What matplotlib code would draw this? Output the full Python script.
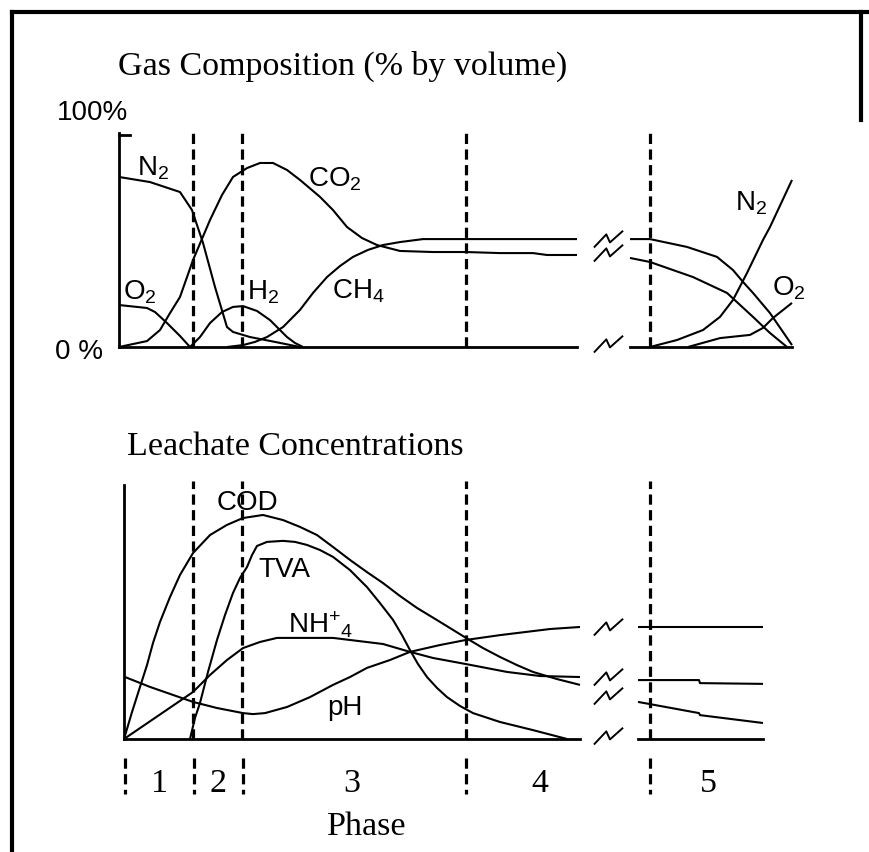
import matplotlib.pyplot as plt
from matplotlib.lines import Line2D

plt.rcParams['font.family'] = ['Liberation Sans', 'DejaVu Sans']
plt.rcParams['mathtext.fontset'] = 'custom'
plt.rcParams['mathtext.rm'] = 'Liberation Sans'
plt.rcParams['mathtext.default'] = 'regular'

# ---------------------------------------------------------------
# Data (time in arbitrary units, gas in % by volume,
# leachate in relative concentration 0..100)
# ---------------------------------------------------------------
phase_bounds = [7.4, 12.3, 34.7, 53.1]
phase_ticks = [0.6, 7.5, 12.4, 34.7, 53.1]
phase_names = ['1', '2', '3', '4', '5']
phase_label_x = [4.1, 9.9, 23.3, 42.1, 58.9]

# gas composition, before the time break
n2_t = [0, 3.1, 6.1, 7.3, 8.4, 9.6, 10.8, 11.4, 13.1, 15.6, 18.1]
n2_v = [80.2, 77.8, 73.1, 64.6, 49.1, 28.3, 9.4, 7.1, 4.7, 2.4, 0]
o2_t = [0, 2.8, 3.6, 4.8, 6.1, 7.1]
o2_v = [19.8, 18.4, 16.5, 11.3, 5.2, 0]
co2_t = [0, 2.8, 4.1, 5.1, 6.1, 7.4, 9.1, 10.3, 11.4, 12.8, 14.1, 15.4, 16.8,
         18.1, 20.1, 21.4, 22.8, 24.3, 25.8, 28.1, 31.4, 34.7, 38.1, 41.4,
         42.8, 45.8]
co2_v = [0, 2.8, 8.0, 16.0, 23.6, 41.0, 59.9, 71.7, 80.2, 84.4, 86.8, 86.8,
         83.5, 78.8, 70.8, 64.6, 56.6, 51.4, 48.1, 45.3, 44.8, 44.8, 44.3,
         44.3, 43.4, 43.4]
ch4_t = [10.8, 12.4, 13.6, 14.8, 16.4, 18.1, 19.4, 20.8, 22.1, 23.4, 24.9,
         26.4, 28.1, 30.4, 34.7, 45.8]
ch4_v = [0, 0.9, 2.4, 4.7, 9.4, 17.5, 25.5, 33.0, 38.2, 42.5, 45.8, 48.1,
         49.5, 50.9, 50.9, 50.9]
h2_t = [7.1, 8.1, 9.1, 10.3, 11.4, 12.4, 13.8, 15.1, 16.1, 16.8, 17.6, 18.4]
h2_v = [0, 4.7, 11.3, 16.5, 18.9, 19.3, 17.0, 12.7, 8.0, 4.7, 1.9, 0]

# gas composition, after the time break
ch4b_t = [51.1, 53.1, 56.8, 59.8, 61.4, 62.4, 63.4, 65.1, 67.3]
ch4b_v = [50.9, 50.9, 47.2, 42.5, 36.3, 30.7, 25.5, 16.0, 0.9]
co2b_t = [51.1, 53.1, 57.4, 60.8, 63.4, 65.1, 66.8]
co2b_v = [42.0, 40.1, 33.0, 25.5, 14.2, 6.6, 0]
n2b_t = [53.1, 55.8, 58.4, 60.1, 61.4, 62.8, 64.4, 65.1, 67.3]
n2b_v = [0, 3.3, 8.0, 14.2, 22.2, 34.9, 50.5, 56.6, 78.8]
o2b_t = [56.9, 60.1, 63.1, 64.4, 65.4, 67.3]
o2b_v = [0, 4.2, 5.7, 9.0, 13.7, 20.8]

# leachate concentrations, before the time break
cod_t = [0.5, 1.3, 2.1, 2.8, 3.4, 4.1, 5.1, 6.1, 7.4, 9.1, 10.8, 12.4, 14.4,
         16.4, 18.1, 19.8, 21.4, 23.1, 24.8, 26.4, 28.1, 29.8, 32.1, 34.7,
         36.4, 38.1, 39.8, 41.4, 43.8, 46.1]
cod_v = [0, 10.6, 20.5, 29.1, 37.8, 46.1, 55.9, 64.6, 73.2, 80.3, 84.3, 87.0,
         88.2, 86.2, 83.5, 80.3, 75.6, 70.5, 65.7, 61.4, 56.3, 51.6, 46.1,
         39.8, 35.8, 32.3, 29.1, 26.4, 23.6, 21.3]
tva_t = [7.1, 7.6, 8.1, 8.9, 9.8, 10.6, 11.4, 12.1, 12.8, 13.3, 13.8, 14.8,
         16.4, 17.6, 18.8, 20.1, 21.4, 23.1, 24.8, 26.1, 27.4, 28.3, 29.1,
         29.9, 30.8, 31.8, 32.8, 34.1, 35.4, 38.1, 41.4, 44.8]
tva_v = [0, 8.3, 14.2, 26.4, 39.0, 48.8, 57.5, 63.4, 67.7, 72.4, 76.0, 77.6,
         78.0, 77.6, 76.4, 74.4, 71.7, 66.5, 59.8, 53.5, 46.9, 40.9, 35.0,
         29.5, 24.4, 20.1, 16.5, 13.0, 10.2, 6.7, 3.5, 0]
nh4_t = [0.5, 7.4, 9.1, 10.8, 12.4, 14.1, 15.8, 21.4, 26.4, 29.1, 31.4, 34.7,
         38.8, 42.1, 46.1]
nh4_v = [0, 18.5, 25.2, 31.1, 35.8, 38.2, 39.8, 39.8, 37.4, 34.3, 31.9, 29.5,
         26.4, 24.8, 24.4]
ph_t = [0.6, 3.1, 7.4, 9.8, 12.4, 13.4, 14.6, 16.8, 19.1, 21.4, 23.1, 24.8,
        27.1, 29.1, 32.1, 34.7, 38.1, 43.1, 46.1]
ph_v = [24.4, 20.5, 14.6, 12.2, 10.2, 9.8, 10.2, 12.6, 16.5, 21.3, 24.4, 28.0,
        31.1, 34.3, 37.0, 39.0, 40.9, 43.3, 44.1]

# leachate concentrations, after the time break
phb_t = [51.9, 58.0, 64.4]
phb_v = [44.1, 44.1, 44.1]
nh4b_t = [51.9, 58.0, 58.1, 64.4]
nh4b_v = [23.2, 23.2, 22.0, 21.7]
codb_t = [51.9, 58.0, 58.1, 64.4]
codb_v = [14.6, 10.2, 9.4, 6.3]

gas_break_y = [50.9, 44.3, 1.5]
leach_break_y = [44.1, 24.4, 16.9, 1.2]
break_x = 48.9

# ---------------------------------------------------------------
W, H = 869, 852
fig = plt.figure(figsize=(W / 100, H / 100), dpi=100)
x0_px, x_scale = 119, 10.0  # pixel of t=0 and pixels per time unit
xlim = (-x0_px / x_scale, (W - x0_px) / x_scale)

ax1 = fig.add_axes([0, 1 - 347 / H, 1, 212 / H])
ax2 = fig.add_axes([0, 1 - 739 / H, 1, 254 / H])
for ax in (ax1, ax2):
    ax.set_xlim(*xlim)
    ax.set_ylim(0, 100)
    ax.axis('off')

LW = 1.5
AXLW = 2.0
kw = dict(color='black', lw=LW, clip_on=False, solid_capstyle='butt')
dash = dict(color='black', lw=2.3, ls=(0, (3.2, 1.7)), clip_on=False)
brk = dict(marker=[(-1, -0.55), (-0.15, 0.35), (0.1, -0.2), (1, 0.6)],
           ms=21, mfc='none', mec='black', mew=1.4, ls='none', clip_on=False)
serif = dict(family='Liberation Serif', fontsize=24.5)
sans = dict(fontsize=20)

# ---- gas panel ----
ax1.plot([0, 0], [0, 101], color='black', lw=AXLW, clip_on=False)
ax1.plot([0, 1.1], [100, 100], color='black', lw=AXLW, clip_on=False)
ax1.plot([0, max(co2_t)], [0, 0], color='black', lw=AXLW, clip_on=False)
ax1.plot([min(co2b_t), max(n2b_t)], [0, 0], color='black', lw=AXLW, clip_on=False)
for xb in phase_bounds:
    ax1.plot([xb, xb], [0, 101.5], **dash)

for t, v in [(n2_t, n2_v), (o2_t, o2_v), (co2_t, co2_v), (ch4_t, ch4_v),
             (h2_t, h2_v), (ch4b_t, ch4b_v), (co2b_t, co2b_v),
             (n2b_t, n2b_v), (o2b_t, o2b_v)]:
    ax1.plot(t, v, **kw)
ax1.plot([break_x] * len(gas_break_y), gas_break_y, **brk)

ax1.text(-0.1, 128.3, 'Gas Composition (% by volume)', ha='left', va='baseline', **serif)
ax1.text(-6.2, 107, '100%', ha='left', va='baseline', **sans)
ax1.text(-6.4, -5.7, '0 %', ha='left', va='baseline', **sans)
ax1.text(1.8, 81.1, 'N$_2$', ha='left', va='baseline', **sans)
ax1.text(18.9, 75.5, 'CO$_2$', ha='left', va='baseline', **sans)
ax1.text(0.4, 22.2, 'O$_2$', ha='left', va='baseline', **sans)
ax1.text(12.8, 22.2, 'H$_2$', ha='left', va='baseline', **sans)
ax1.text(21.3, 23.1, 'CH$_4$', ha='left', va='baseline', **sans)
ax1.text(61.6, 64.6, 'N$_2$', ha='left', va='baseline', **sans)
ax1.text(65.3, 24.5, 'O$_2$', ha='left', va='baseline', **sans)

# ---- leachate panel ----
ax2.plot([0.5, 0.5], [0, 100], color='black', lw=AXLW, clip_on=False)
ax2.plot([0.5, max(cod_t)], [0, 0], color='black', lw=AXLW, clip_on=False)
ax2.plot([min(phb_t), max(phb_t)], [0, 0], color='black', lw=AXLW, clip_on=False)
for xb in phase_bounds:
    ax2.plot([xb, xb], [0, 101.5], **dash)

for t, v in [(cod_t, cod_v), (tva_t, tva_v), (nh4_t, nh4_v), (ph_t, ph_v),
             (phb_t, phb_v), (nh4b_t, nh4b_v), (codb_t, codb_v)]:
    ax2.plot(t, v, **kw)
ax2.plot([break_x] * len(leach_break_y), leach_break_y, **brk)

ax2.text(0.8, 111.8, 'Leachate Concentrations', ha='left', va='baseline', **serif)
ax2.text(9.8, 90.2, 'COD', ha='left', va='baseline', **sans)
ax2.text(13.9, 63.8, 'TVA', ha='left', va='baseline', **sans)
ax2.text(16.9, 41.7, 'NH$^{+}$$_4$', ha='left', va='baseline', **sans)
ax2.text(20.8, 9.4, 'pH', ha='left', va='baseline', **sans)

# phase scale under the leachate panel
for xt in phase_ticks:
    ax2.plot([xt, xt], [-7.5, -21.5], **dash)
for xl, name in zip(phase_label_x, phase_names):
    ax2.text(xl, -20.9, name, ha='center', va='baseline', **serif)
ax2.text(24.8, -37.8, 'Phase', ha='center', va='baseline', **serif)

# frame of the original figure
fig.add_artist(Line2D([12 / W, 12 / W], [0, 1 - 12 / H], color='black', lw=3,
                      transform=fig.transFigure))
fig.add_artist(Line2D([12 / W, 1], [1 - 12 / H, 1 - 12 / H], color='black', lw=3,
                      transform=fig.transFigure))
fig.add_artist(Line2D([861 / W, 861 / W], [1 - 12 / H, 1 - 120 / H], color='black', lw=3,
                      transform=fig.transFigure))

fig.savefig('out.png', dpi=100)
